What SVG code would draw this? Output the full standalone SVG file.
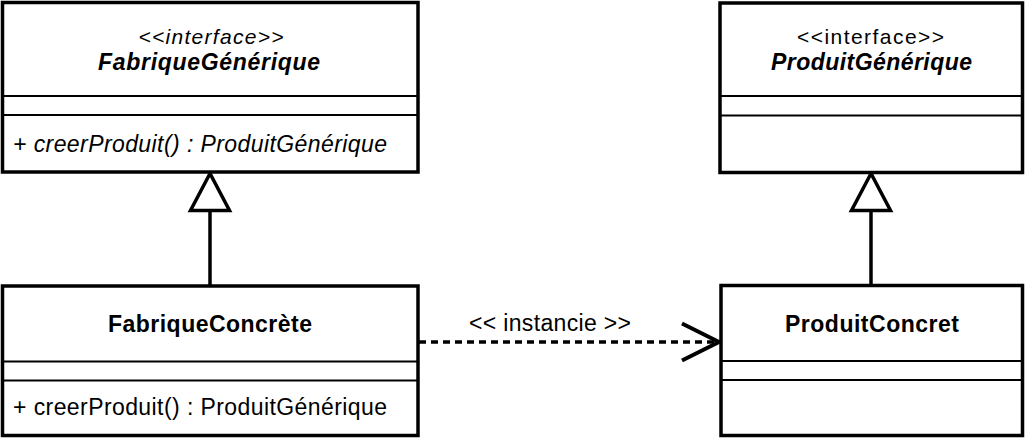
<svg xmlns="http://www.w3.org/2000/svg" width="1025" height="439" viewBox="0 0 1025 439">
<style>
.box{fill:#fff;stroke:#000;stroke-width:3.5}
.div{stroke:#000;stroke-width:2}
text{font-family:"Liberation Sans",Arial,sans-serif;font-size:23px;fill:#000}
.c{text-anchor:middle}
.b{font-weight:bold}
.i{font-style:italic}
.st{font-size:21px}
.edge{fill:none;stroke:#000;stroke-width:3.5}
</style>
<defs>
<marker id="gen" markerUnits="userSpaceOnUse" viewBox="-42 -24 46 48" refX="0" refY="0" markerWidth="46" markerHeight="48" orient="auto">
<polygon points="0,0 -37,-19.5 -37,19.5" fill="#fff" stroke="#000" stroke-width="3.5" stroke-linejoin="miter"/>
</marker>
<marker id="open" markerUnits="userSpaceOnUse" viewBox="-42 -24 46 48" refX="0" refY="0" markerWidth="46" markerHeight="48" orient="auto">
<polyline points="-37,-18.5 0,0 -37,18.5" fill="none" stroke="#000" stroke-width="4" stroke-linejoin="round"/>
</marker>
</defs>
<g id="connectors">
<line class="edge" x1="210" y1="286" x2="210" y2="173.5" marker-end="url(#gen)"/>
<line class="edge" x1="871" y1="285" x2="871" y2="173.5" marker-end="url(#gen)"/>
<line class="edge" x1="419" y1="342" x2="719" y2="342" stroke-dasharray="7 5" marker-end="url(#open)"/>
<text class="c" x="550" y="331" textLength="162" lengthAdjust="spacing">&lt;&lt; instancie &gt;&gt;</text>
</g>
<g id="FabriqueGenerique">
<rect class="box" x="2.5" y="2.5" width="415.5" height="169.5"/>
<line class="div" x1="2.5" y1="96" x2="418" y2="96"/>
<line class="div" x1="2.5" y1="115" x2="418" y2="115"/>
<text class="c i st" x="211" y="44" textLength="145" lengthAdjust="spacing">&lt;&lt;interface&gt;&gt;</text>
<text class="c b i" x="209" y="70" textLength="222" lengthAdjust="spacing">FabriqueGénérique</text>
<text class="i" x="13" y="152" textLength="374" lengthAdjust="spacing">+ creerProduit() : ProduitGénérique</text>
</g>
<g id="ProduitGenerique">
<rect class="box" x="720" y="3" width="302.5" height="169.5"/>
<line class="div" x1="720" y1="96" x2="1022.5" y2="96"/>
<line class="div" x1="720" y1="115.5" x2="1022.5" y2="115.5"/>
<text class="c st" x="870.5" y="43.5" textLength="147" lengthAdjust="spacing">&lt;&lt;interface&gt;&gt;</text>
<text class="c b i" x="871.5" y="70" textLength="201" lengthAdjust="spacing">ProduitGénérique</text>
</g>
<g id="FabriqueConcrete">
<rect class="box" x="2.5" y="286" width="415.5" height="149.5"/>
<line class="div" x1="2.5" y1="361.5" x2="418" y2="361.5"/>
<line class="div" x1="2.5" y1="380.5" x2="418" y2="380.5"/>
<text class="c b" x="210" y="331.5" textLength="204" lengthAdjust="spacing">FabriqueConcrète</text>
<text x="13" y="415" textLength="374" lengthAdjust="spacing">+ creerProduit() : ProduitGénérique</text>
</g>
<g id="ProduitConcret">
<rect class="box" x="721" y="285.5" width="301.5" height="150"/>
<line class="div" x1="721" y1="361" x2="1022.5" y2="361"/>
<line class="div" x1="721" y1="380" x2="1022.5" y2="380"/>
<text class="c b" x="872" y="331.5" textLength="174" lengthAdjust="spacing">ProduitConcret</text>
</g>
</svg>
